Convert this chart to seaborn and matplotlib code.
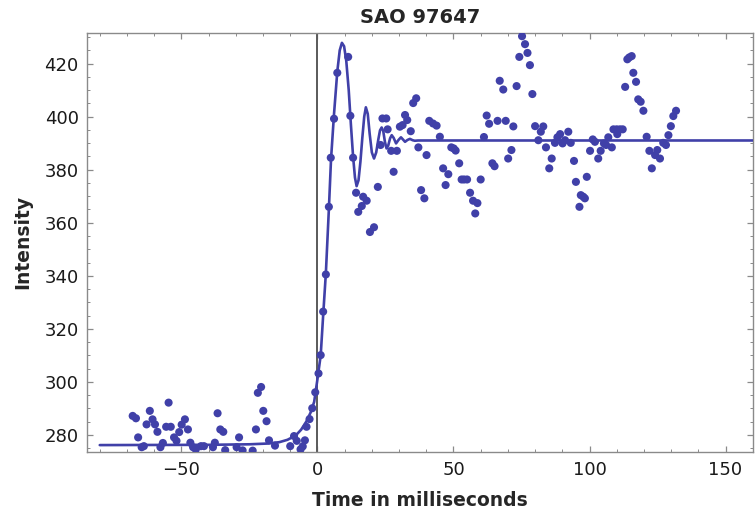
import matplotlib
matplotlib.use("Agg")
import matplotlib.pyplot as plt
import seaborn as sns
import pandas as pd
from matplotlib.ticker import MultipleLocator

# ---- data ----
time_ms = [
    -67.9, -66.7, -65.9, -64.6, -63.8, -62.8, -61.6, -60.6, -59.7, -58.8,
    -57.7, -56.8, -55.6, -53.9, -54.7, -52.7, -51.8, -50.8, -49.9, -48.7,
    -47.6, -46.7, -45.7, -44.7, -42.8, -41.7, -38.4, -37.7, -36.7, -35.7,
    -34.6, -33.9, -29.7, -28.8, -27.5, -23.8, -22.6, -21.9, -20.7, -19.9,
    -18.7, -17.8, -15.6, -10.0, -8.6, -7.6, -6.2, -5.4, -4.6, -4.0,
    -2.9, -1.9, -0.8, 0.4, 1.2, 2.1, 3.1, 4.2, 4.9, 6.1,
    7.3, 11.3, 12.1, 13.1, 14.2, 15.0, 16.3, 16.8, 18.1, 19.3,
    20.8, 22.2, 23.2, 23.9, 25.3, 25.8, 27.1, 29.2, 28.0, 30.3,
    31.3, 32.2, 33.0, 34.3, 35.2, 36.3, 37.1, 38.1, 39.3, 40.1,
    41.1, 42.5, 43.8, 45.0, 46.2, 47.1, 48.1, 49.2, 50.1, 50.8,
    52.1, 53.0, 53.9, 55.0, 56.1, 57.2, 58.8, 58.0, 60.0, 61.2,
    62.2, 63.1, 64.3, 65.1, 66.2, 67.0, 68.3, 69.2, 70.1, 71.3,
    72.0, 73.2, 74.2, 75.2, 76.3, 77.2, 78.1, 79.0, 80.0, 81.2,
    82.1, 83.0, 84.0, 85.2, 86.1, 87.3, 88.2, 89.2, 90.1, 91.0,
    92.2, 93.1, 94.3, 95.0, 96.3, 96.8, 97.7, 98.3, 99.0, 100.2,
    101.2, 102.0, 103.2, 104.1, 105.3, 106.1, 106.9, 108.2, 108.8, 110.0,
    110.2, 111.2, 112.2, 113.1, 113.9, 114.6, 115.5, 116.1, 117.1, 117.9,
    118.8, 119.8, 121.0, 122.0, 122.9, 124.1, 124.9, 125.9, 127.1, 128.1,
    129.0, 129.9, 130.8, 131.8,
]
intensity = [
    287.2, 286.3, 279.1, 275.4, 275.8, 284.0, 289.1, 285.9, 284.0, 281.2,
    275.4, 277.0, 283.1, 283.1, 292.2, 279.1, 277.8, 281.1, 283.9, 285.9,
    282.1, 277.1, 275.4, 274.6, 275.8, 275.8, 275.4, 277.1, 288.2, 282.1,
    281.2, 274.3, 275.4, 279.1, 274.2, 274.1, 282.1, 295.9, 298.1, 289.1,
    285.2, 278.0, 276.0, 275.8, 279.6, 277.8, 274.6, 275.7, 278.0, 283.1,
    286.0, 290.1, 296.1, 303.2, 310.1, 326.5, 340.5, 366.0, 384.5, 399.2,
    416.5, 422.5, 400.3, 384.5, 371.3, 364.1, 366.3, 369.8, 368.3, 356.5,
    358.3, 373.5, 389.3, 399.3, 399.3, 395.2, 387.1, 387.1, 379.2, 396.2,
    396.8, 400.6, 398.7, 394.5, 405.1, 406.9, 388.4, 372.3, 369.2, 385.5,
    398.4, 397.4, 396.6, 392.4, 380.5, 374.2, 378.3, 388.4, 388.0, 387.2,
    382.4, 376.3, 376.3, 376.3, 371.3, 368.3, 367.4, 363.5, 376.3, 392.3,
    400.4, 397.3, 382.4, 381.3, 398.4, 413.5, 410.2, 398.4, 384.2, 387.4,
    396.3, 411.5, 422.5, 430.3, 427.3, 424.0, 419.4, 408.5, 396.4, 391.1,
    394.3, 396.3, 388.4, 380.5, 384.2, 390.1, 392.2, 393.4, 389.9, 391.1,
    394.3, 390.1, 383.3, 375.4, 366.0, 370.4, 369.8, 369.2, 377.3, 387.1,
    391.4, 390.5, 384.2, 387.1, 389.9, 389.3, 392.2, 388.4, 395.2, 395.2,
    393.4, 395.2, 395.2, 411.2, 421.6, 422.3, 422.8, 416.5, 413.1, 406.5,
    405.6, 402.2, 392.4, 387.1, 380.5, 385.5, 387.4, 384.2, 390.1, 389.3,
    393.0, 396.4, 400.2, 402.2,
]

# fitted curve
fit_time = [
    -80, -40, -25, -18, -14, -11, -8, -6, -4, -2.5,
    -1.2, 0, 1.2, 2.1, 3.1, 4.2, 5.0, 6.1, 7.3, 8.2,
    9.0, 9.8, 10.6, 11.5, 12.3, 13.1, 13.8, 14.4, 15.1, 15.8,
    16.5, 17.2, 17.8, 18.5, 19.2, 20.0, 20.8, 21.6, 22.4, 23.0,
    23.6, 24.2, 24.8, 25.4, 26.0, 26.7, 27.3, 28.0, 28.9, 29.8,
    30.7, 31.5, 32.2, 33.1, 34.0, 35.0, 35.8, 37.0, 160.0,
]
fit_intensity = [
    276.2, 276.3, 276.5, 276.8, 277.3, 278.2, 279.8, 282.0, 285.2, 288.5,
    292.5, 301.0, 310.0, 325.0, 341.0, 365.0, 384.0, 401.0, 417.0, 425.0,
    427.8, 426.5, 421.0, 410.0, 397.0, 385.0, 377.0, 373.8, 376.0, 383.0,
    392.0, 400.0, 403.5, 401.0, 393.5, 386.5, 384.2, 386.5, 391.5, 394.8,
    395.9, 394.5, 390.5, 388.0, 389.0, 391.8, 393.0, 392.0, 389.9, 391.2,
    392.2, 391.3, 390.5, 391.2, 391.6, 391.1, 390.9, 391.0, 391.0,
]

x_major = [-50, 0, 50, 100, 150]
y_major = [280, 300, 320, 340, 360, 380, 400, 420]
title = "SAO 97647"
x_label = "Time in milliseconds"
y_label = "Intensity"

# ---- plotting ----
sns.set_style("ticks")
plt.rcParams["font.family"] = ["DejaVu Sans"]

blue = "#4040a8"
frame = "#8a8a8a"

fig = plt.figure(figsize=(7.55, 5.2), dpi=100)
ax = fig.add_axes([0.1152, 0.1313, 0.8822, 0.8052])

pts = pd.DataFrame({"t": time_ms, "I": intensity})
fit = pd.DataFrame({"t": fit_time, "I": fit_intensity})

ax.axvline(0, color="#5a5a5a", lw=1.4, zorder=1)
sns.lineplot(data=fit, x="t", y="I", ax=ax, color=blue, lw=1.9,
             sort=False, estimator=None, zorder=3)
sns.scatterplot(data=pts, x="t", y="I", ax=ax, color=blue, s=34,
                edgecolor="none", zorder=4)

ax.set_xlim(-84.7, 160.1)
ax.set_ylim(273.7, 431.5)

ax.set_xticks(x_major)
ax.set_xticklabels(["\u221250", "0", "50", "100", "150"])
ax.set_yticks(y_major)
ax.xaxis.set_minor_locator(MultipleLocator(10))
ax.yaxis.set_minor_locator(MultipleLocator(5))

ax.tick_params(which="both", direction="in", top=True, right=True,
               color=frame, labelsize=13, labelcolor="#1a1a1a")
ax.tick_params(which="major", length=4.5, width=0.9)
ax.tick_params(which="minor", length=2.5, width=0.7)
ax.tick_params(axis="y", which="major", pad=6)
ax.tick_params(axis="x", which="major", pad=7)

for sp in ax.spines.values():
    sp.set_color(frame)
    sp.set_linewidth(1.0)
    sp.set_visible(True)

ax.set_xlabel(x_label, fontsize=13.5, fontweight="bold", labelpad=8)
ax.set_ylabel(y_label, fontsize=13.5, fontweight="bold", labelpad=9)
ax.set_title(title, fontsize=14, fontweight="bold", pad=7)

fig.savefig("out.png", dpi=100)
